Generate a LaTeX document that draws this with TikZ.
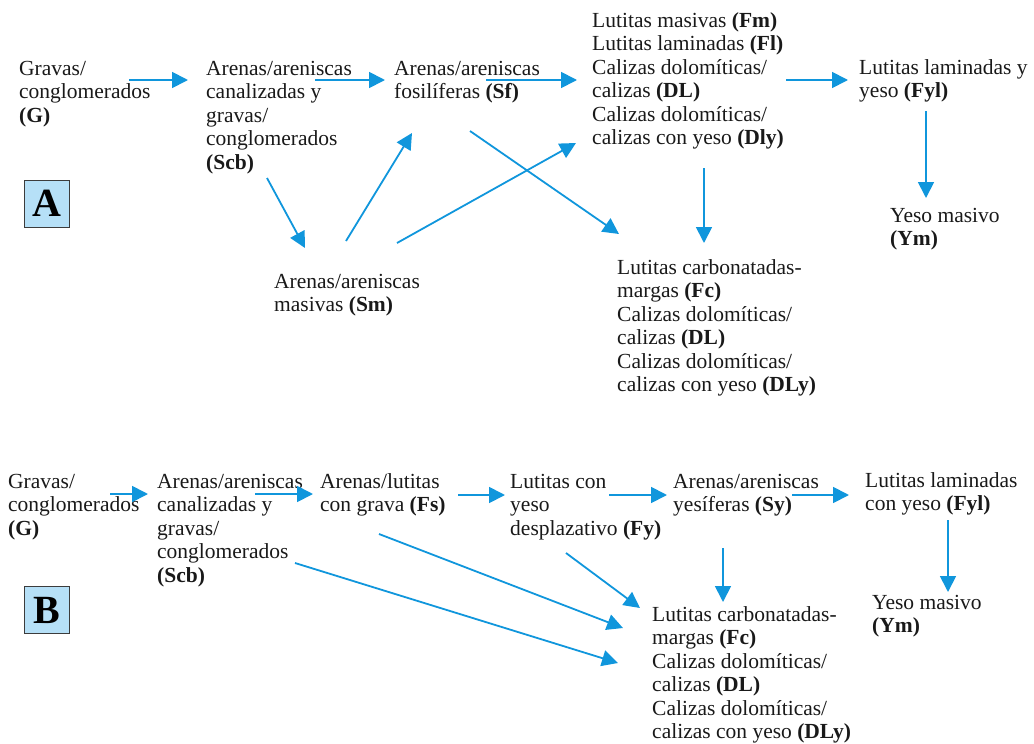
\documentclass[tikz,border=0pt]{standalone}
\usepackage{fontspec}
\setmainfont{Liberation Serif}
\usetikzlibrary{arrows.meta}
\definecolor{arrblue}{RGB}{16,150,220}
\definecolor{boxblue}{RGB}{182,224,247}
\definecolor{boxedge}{RGB}{60,60,60}
\begin{document}
\begin{tikzpicture}[x=1pt,y=-1pt,
  txt/.style={anchor=north west,inner sep=0pt,align=left,
    font=\fontsize{21.5}{23.5}\selectfont,text=black!90},
  arr/.style={draw=arrblue,line width=1.8pt,
    -{Triangle[length=16pt,width=16pt]}},
  lbox/.style={draw=boxedge,line width=0.9pt,fill=boxblue,
    minimum width=45pt,minimum height=47pt,inner sep=0pt,
    font=\fontsize{40}{40}\selectfont\bfseries}]
\useasboundingbox (0,0) rectangle (1034,744);
% ---------- Part A ----------
\node[txt] (GA) at (19,58.5) {\strut Gravas/\\conglomerados\\\textbf{(G)}};
\node[txt] (ScbA) at (206,58.5) {\strut Arenas/areniscas\\canalizadas y\\gravas/\\conglomerados\\\textbf{(Scb)}};
\node[txt] (SfA) at (394,58.5) {\strut Arenas/areniscas\\fosilíferas \textbf{(Sf)}};
\node[txt] (RA) at (592,10.5) {\strut Lutitas masivas \textbf{(Fm)}\\Lutitas laminadas \textbf{(Fl)}\\Calizas dolomíticas/\\calizas \textbf{(DL)}\\Calizas dolomíticas/\\calizas con yeso \textbf{(Dly)}};
\node[txt] (FylA) at (859,57.5) {\strut Lutitas laminadas y\\yeso \textbf{(Fyl)}};
\node[txt] (YmA) at (890,205.5) {\strut Yeso masivo\\\textbf{(Ym)}};
\node[txt] (SmA) at (274,271.5) {\strut Arenas/areniscas\\masivas \textbf{(Sm)}};
\node[txt] (FcA) at (617,257.5) {\strut Lutitas carbonatadas-\\margas \textbf{(Fc)}\\Calizas dolomíticas/\\calizas \textbf{(DL)}\\Calizas dolomíticas/\\calizas con yeso \textbf{(DLy)}};
\node[lbox] (boxA) at (46.5,203.5) {A};
% arrow end points A
\coordinate (a1s) at (129,80);  \coordinate (a1e) at (188,80);
\coordinate (a2s) at (315,80);  \coordinate (a2e) at (385,80);
\coordinate (a3s) at (486,80);  \coordinate (a3e) at (577,80);
\coordinate (a4s) at (786,80);  \coordinate (a4e) at (848,80);
\coordinate (a5s) at (926,111); \coordinate (a5e) at (926,198);
\coordinate (a6s) at (267,178); \coordinate (a6e) at (305,248);
\coordinate (a7s) at (346,241); \coordinate (a7e) at (412,133);
\coordinate (a8s) at (397,243); \coordinate (a8e) at (576,143);
\coordinate (a9s) at (470,131); \coordinate (a9e) at (619,234);
\coordinate (a10s) at (704,168); \coordinate (a10e) at (704,243);
\foreach \i in {1,...,10}{\draw[arr] (a\i s) -- (a\i e);}
% ---------- Part B ----------
\node[txt] (GB) at (8,471.5) {\strut Gravas/\\conglomerados\\\textbf{(G)}};
\node[txt] (ScbB) at (157,471.5) {\strut Arenas/areniscas\\canalizadas y\\gravas/\\conglomerados\\\textbf{(Scb)}};
\node[txt] (FsB) at (320,471.5) {\strut Arenas/lutitas\\con grava \textbf{(Fs)}};
\node[txt] (FyB) at (510,471.5) {\strut Lutitas con\\yeso\\desplazativo \textbf{(Fy)}};
\node[txt] (SyB) at (673,471.5) {\strut Arenas/areniscas\\yesíferas \textbf{(Sy)}};
\node[txt] (FylB) at (865,470.5) {\strut Lutitas laminadas\\con yeso \textbf{(Fyl)}};
\node[txt] (YmB) at (872,592.5) {\strut Yeso masivo\\\textbf{(Ym)}};
\node[txt] (FcB) at (652,604.5) {\strut Lutitas carbonatadas-\\margas \textbf{(Fc)}\\Calizas dolomíticas/\\calizas \textbf{(DL)}\\Calizas dolomíticas/\\calizas con yeso \textbf{(DLy)}};
\node[lbox] (boxB) at (46.5,610) {B};
% arrow end points B
\coordinate (b1s) at (110,494); \coordinate (b1e) at (148,494);
\coordinate (b2s) at (255,494); \coordinate (b2e) at (313,494);
\coordinate (b3s) at (458,495); \coordinate (b3e) at (505,495);
\coordinate (b4s) at (609,495); \coordinate (b4e) at (667,495);
\coordinate (b5s) at (792,495); \coordinate (b5e) at (849,495);
\coordinate (b6s) at (723,548); \coordinate (b6e) at (723,602);
\coordinate (b7s) at (948,520); \coordinate (b7e) at (948,592);
\coordinate (b8s) at (566,553); \coordinate (b8e) at (640,608);
\coordinate (b9s) at (379,534); \coordinate (b9e) at (623,628);
\coordinate (b10s) at (295,563); \coordinate (b10e) at (618,663);
\foreach \i in {1,...,10}{\draw[arr] (b\i s) -- (b\i e);}
\end{tikzpicture}
\end{document}
